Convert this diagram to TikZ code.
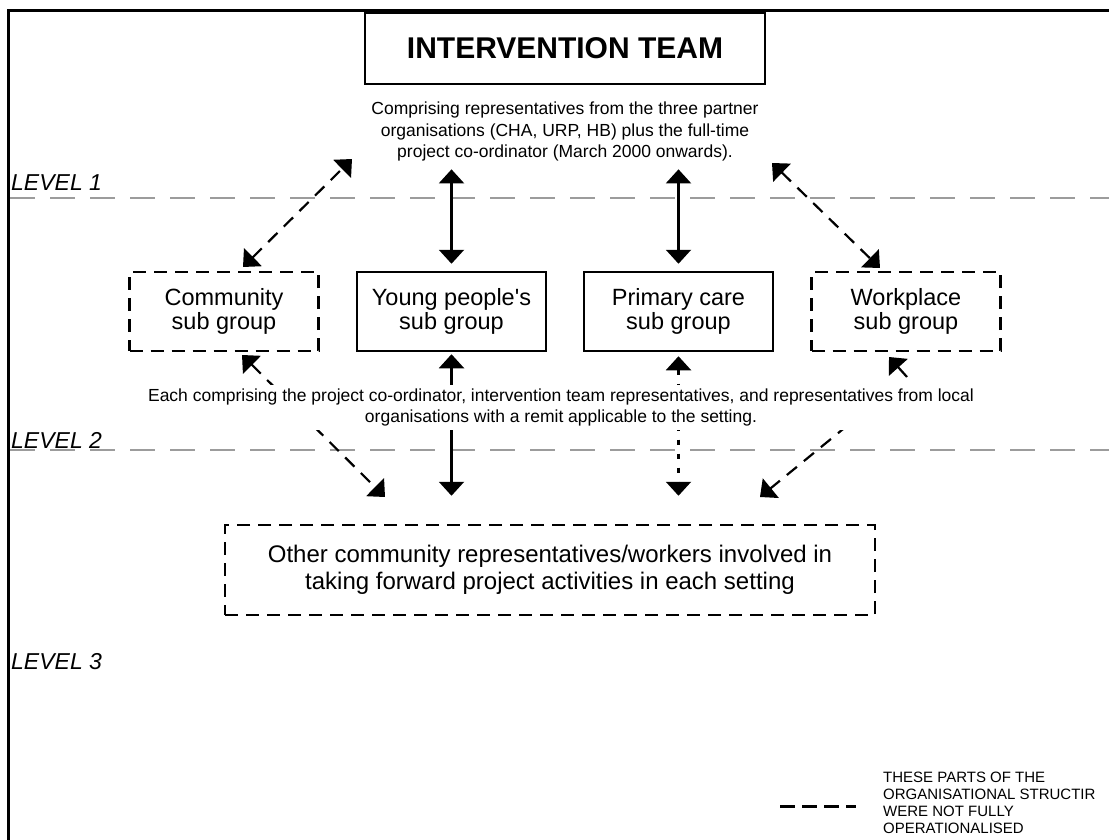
\documentclass[tikz,border=0pt]{standalone}
\usepackage{fontspec}
\setmainfont{Liberation Sans}
\usetikzlibrary{arrows.meta,positioning}
\definecolor{levelGray}{HTML}{9C9C9C}
\tikzset{
  tip/.style={{Triangle[length=14pt,width=25pt]}-{Triangle[length=14pt,width=25pt]}, draw=black, line width=2.2pt},
  endtip/.style={-{Triangle[length=14pt,width=25pt]}, draw=black, line width=2.2pt},
  dashtip/.style={tip, dash pattern=on 13pt off 9pt},
  dashend/.style={endtip, dash pattern=on 13pt off 9pt},
  dottip/.style={tip, dash pattern=on 5pt off 9pt},
  pending/.style={dash pattern=on 13pt off 8pt},
  team/.style={rectangle, draw=black, line width=2.5pt, minimum width=400pt, minimum height=71pt, font=\fontsize{30}{34}\selectfont\bfseries},
  subgroup/.style={rectangle, draw=black, line width=2.5pt, minimum width=189pt, minimum height=79pt, align=center, font=\fontsize{23.5}{24}\selectfont},
  others/.style={rectangle, draw=black, line width=2.5pt, minimum width=650pt, minimum height=90pt, align=center, font=\fontsize{24}{27}\selectfont},
  note/.style={align=center, inner xsep=3pt, inner ysep=4pt, font=\fontsize{17.5}{21.5}\selectfont},
  levelLabel/.style={anchor=west, inner sep=0pt, font=\fontsize{23}{26}\selectfont\itshape},
  levelLine/.style={draw=levelGray, line width=2.5pt, dash pattern=on 25pt off 15pt},
  keyText/.style={anchor=north west, align=left, inner sep=0pt, font=\fontsize{15}{17}\selectfont}
}

\begin{document}
\begin{tikzpicture}[x=1pt,y=-1pt]
\clip (0,0) rectangle (1109,840);
\fill[white] (0,0) rectangle (1109,840);

% frame
\draw[line width=2.7pt] (8.7,840) -- (8.7,10.7) -- (1109,10.7);

% level bands
\node[levelLabel] (level1) at (11,183) {LEVEL 1};
\node[levelLabel] (level2) at (11,440) {LEVEL 2};
\node[levelLabel] (level3) at (11,662) {LEVEL 3};
\draw[levelLine] (10,198) -- (1109,198);
\draw[levelLine] (10,450) -- (1109,450);

% top
\node[team] (team) at (565,48.5) {INTERVENTION TEAM};
\node[note] (teamNote) at (565,131.5) {Comprising representatives from the three partner\\
  organisations (CHA, URP, HB) plus the full-time\\project co-ordinator (March 2000 onwards).};

% sub groups
\node[subgroup, pending] (community) at (224,311.5) {Community\\sub group};
\node[subgroup] (young) at (451.5,311.5) {Young people\textquotesingle s\\sub group};
\node[subgroup] (primary) at (678.5,311.5) {Primary care\\sub group};
\node[subgroup, pending] (workplace) at (906,311.5) {Workplace\\sub group};

\node[others, pending] (others) at (550,570) {Other community representatives/workers involved in\\
  taking forward project activities in each setting};

% level 1 links
\coordinate (teamLeft) at (352,159);
\coordinate (teamRight) at (772,163);
\coordinate (cmTop) at (243,267);
\coordinate (wpTop) at (880,268);
\draw[dashtip] (cmTop) -- (teamLeft);
\draw[dashtip] (teamRight) -- (wpTop);
\draw[tip, shorten <=4pt, shorten >=7pt] (young.north |- teamNote.south) -- (young.north);
\draw[tip, shorten <=4pt, shorten >=7pt] (primary.north |- teamNote.south) -- (primary.north);

% level 2 links
\coordinate (cmLow) at (242,355);
\coordinate (othersLeft) at (385,497);
\coordinate (wpTip) at (889,357);
\coordinate (wpStub) at (907,377);
\coordinate (wpLow) at (848,425);
\coordinate (othersRight) at (760,497);
\draw[dashtip] (cmLow) -- (othersLeft);
\draw[tip, shorten <=2pt, shorten >=28pt] (young.south) -- (young.south |- others.north);
\draw[dottip, shorten <=4pt, shorten >=28pt] (primary.south) -- (primary.south |- others.north);
\draw[endtip] (wpStub) -- (wpTip);
\draw[dashend] (wpLow) -- (othersRight);

\node[note, fill=white] (groupNote) at (561,407.5) {Each comprising the project co-ordinator, intervention team representatives, and representatives from local\\
  organisations with a remit applicable to the setting.};

% key
\coordinate (keyA) at (780,806);
\coordinate (keyB) at (856,806);
\draw[line width=3pt, dash pattern=on 15pt off 7pt] (keyA) -- (keyB);
\node[keyText] (keyNote) at (883,772) {THESE PARTS OF THE\\ORGANISATIONAL STRUCTIR\\WERE NOT FULLY\\OPERATIONALISED};

\end{tikzpicture}
\end{document}
